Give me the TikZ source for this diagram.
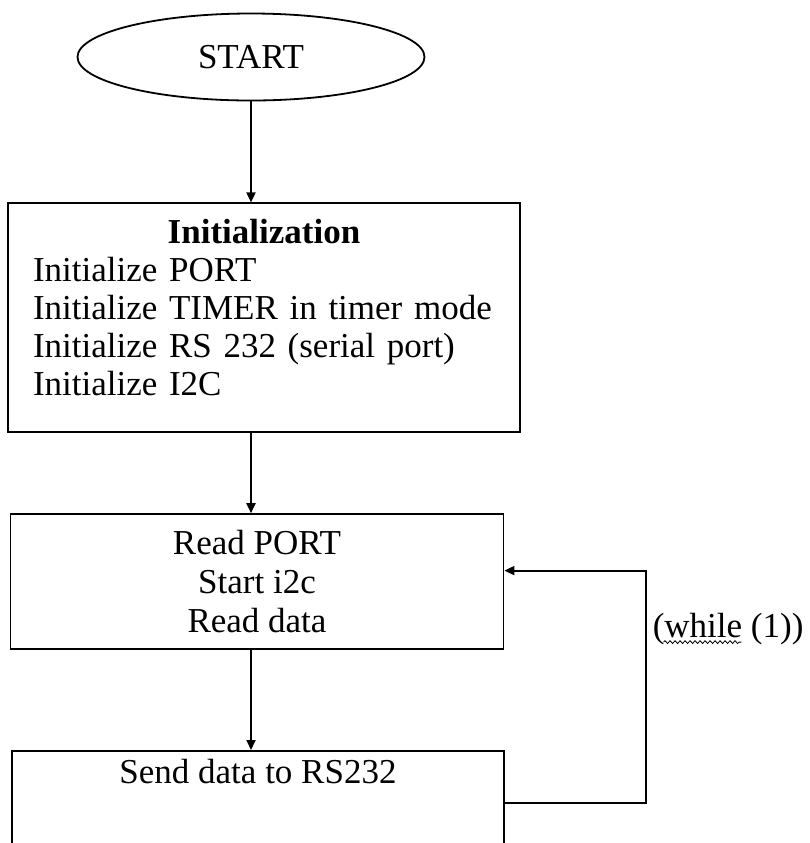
\documentclass[tikz,border=0pt]{standalone}
\usepackage{fontspec}
\setmainfont{Liberation Serif}
\usetikzlibrary{positioning,shapes.geometric,arrows.meta,decorations.pathmorphing}

\begin{document}
\begin{tikzpicture}[font=\fontsize{17.5}{19}\selectfont, line width=0.9pt,
    stepbox/.style={rectangle, draw, inner sep=0pt},
    flow/.style={-{Triangle[length=5pt,width=4.5pt]}}]
    \clip (0,0) rectangle (405pt,-421.5pt);
    \node[ellipse, draw, inner sep=0pt, minimum width=173.5pt, minimum height=43.5pt] (start) at (125.5pt,-28.5pt) {START};
    \node[stepbox, minimum width=256pt, minimum height=114.5pt, text width=231pt, align=left,
        text depth=86pt, below=50.5pt of start, xshift=6.5pt] (init)
        {{\centering\textbf{Initialization}\par}
         Initialize PORT\\
         Initialize TIMER in timer mode\\
         Initialize RS 232 (serial port)\\
         Initialize I2C};
    \node[stepbox, minimum width=246.5pt, minimum height=67.5pt, align=center,
        font=\fontsize{17.5}{19.5}\selectfont,
        below=40pt of init, xshift=-3.5pt] (read)
        {Read PORT\\ Start i2c\\ Read data};
    \node[stepbox, minimum width=246pt, inner ysep=7.5pt, text height=9pt, text depth=45pt,
        below=50pt of read, xshift=0.5pt] (send) {Send data to RS232};
    \draw[flow] (start.south) -- (start.south |- init.north);
    \draw[flow] (start.south |- init.south) -- (start.south |- read.north);
    \draw[flow] (start.south |- read.south) -- (start.south |- send.north);
    \draw[flow] ([yshift=8.5pt]send.east) -- ++(70.5pt,0) |- node[pos=0.375, anchor=west, inner sep=0pt, xshift=3pt] (loop) {(while (1))} ([yshift=5.5pt]read.east);
    \draw[line width=0.4pt, decorate, decoration={snake, amplitude=0.7pt, segment length=2.5pt}]
        ([xshift=5.8pt,yshift=-2.5pt]loop.base west) -- ++(38.9pt,0);
\end{tikzpicture}
\end{document}
